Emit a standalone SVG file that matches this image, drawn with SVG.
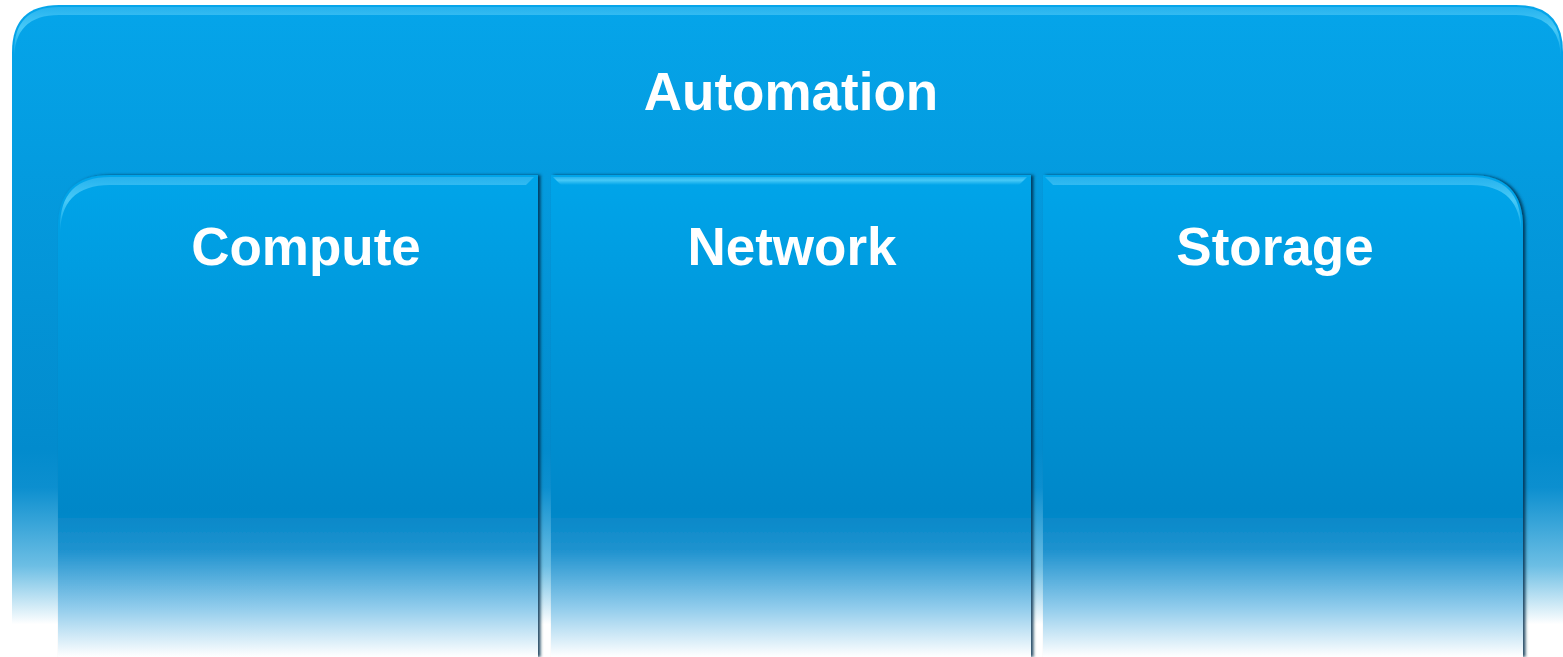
<svg xmlns="http://www.w3.org/2000/svg" width="1563" height="657" viewBox="0 0 1563 657">
<defs>
<linearGradient id="gOuter" gradientUnits="userSpaceOnUse" x1="0" y1="5" x2="0" y2="657">
<stop offset="0" stop-color="#05a5ea"/>
<stop offset="0.68" stop-color="#028bcd"/>
<stop offset="0.74" stop-color="#0c8fcf"/>
<stop offset="0.86" stop-color="#6cbee4"/>
<stop offset="0.95" stop-color="#ffffff"/>
<stop offset="1" stop-color="#ffffff"/>
</linearGradient>
<linearGradient id="gInner" gradientUnits="userSpaceOnUse" x1="0" y1="175" x2="0" y2="657">
<stop offset="0" stop-color="#05a5ea"/>
<stop offset="0.7" stop-color="#0287c8"/>
<stop offset="0.78" stop-color="#2093cf"/>
<stop offset="0.9" stop-color="#93cdec"/>
<stop offset="1" stop-color="#ffffff"/>
</linearGradient>
<linearGradient id="gHi" x1="0" y1="0" x2="0" y2="1">
<stop offset="0" stop-color="#2ab4ef" stop-opacity="1"/>
<stop offset="0.4" stop-color="#4fcdf8" stop-opacity="1"/>
<stop offset="1" stop-color="#4fcdf8" stop-opacity="0"/>
</linearGradient>
<filter id="sh" x="-5%" y="-5%" width="110%" height="110%">
<feDropShadow dx="2.5" dy="0" stdDeviation="1.5" flood-color="#012f4c" flood-opacity="0.85"/>
</filter>
</defs>
<style>
.lbl{font-family:"Liberation Sans",Arial,sans-serif;font-weight:bold;font-size:53px;fill:#ffffff;text-anchor:middle}
</style>
<g id="automation">
<path d="M12,657 L12,52 Q12,5 59,5 L1516,5 Q1563,5 1563,52 L1563,657 Z" fill="url(#gOuter)"/>
<path d="M14,52 Q14,7 59,7 L1516,7 Q1561,7 1561,52 L1561,60 Q1561,15 1516,15 L59,15 Q14,15 14,60 Z" fill="url(#gHi)" opacity="0.9"/>
<text class="lbl" x="791" y="110">Automation</text>
</g>
<g id="compute">
<path d="M58,657 L58,227 Q58,175 110,175 L538,175 L538,657 Z" fill="url(#gInner)" filter="url(#sh)"/>
<path d="M60,227 Q60,177 110,177 L534,177 L526,185 L110,185 Q60,185 60,235 Z" fill="url(#gHi)" opacity="0.9"/>
<text class="lbl" x="306" y="265">Compute</text>
</g>
<g id="network">
<path d="M551,657 L551,175 L1031,175 L1031,657 Z" fill="url(#gInner)" filter="url(#sh)"/>
<path d="M553,177 L1027,177 L1019,185 L561,185 Z" fill="url(#gHi)" opacity="0.9"/>
<text class="lbl" x="792" y="265">Network</text>
</g>
<g id="storage">
<path d="M1043,657 L1043,175 L1471,175 Q1523,175 1523,227 L1523,657 Z" fill="url(#gInner)" filter="url(#sh)"/>
<path d="M1045,177 L1471,177 Q1521,177 1521,227 L1521,235 Q1521,185 1471,185 L1053,185 Z" fill="url(#gHi)" opacity="0.9"/>
<text class="lbl" x="1275" y="265">Storage</text>
</g>
<g id="connectors"/>
</svg>
